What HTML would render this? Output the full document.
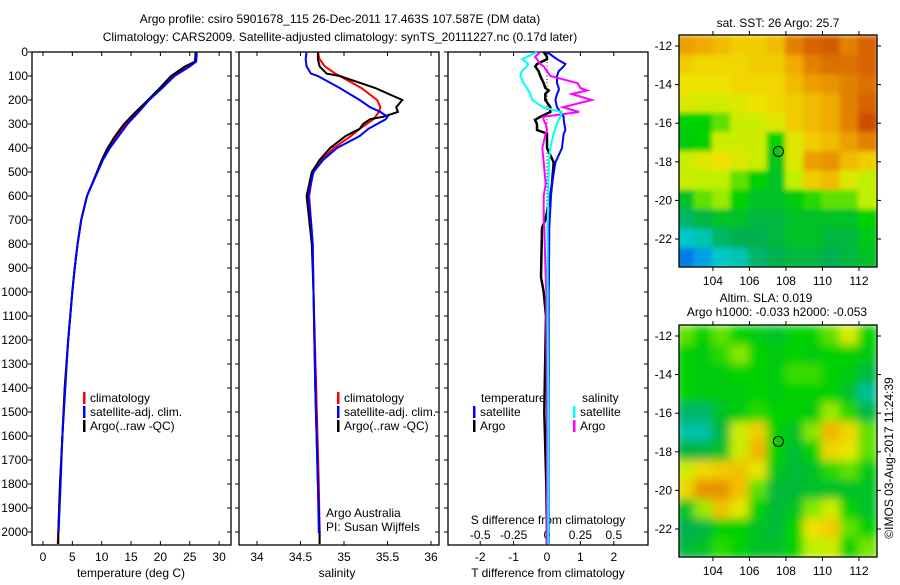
<!DOCTYPE html>
<html><head><meta charset="utf-8">
<style>
html,body{margin:0;padding:0;background:#fff;}
svg text{font-family:"Liberation Sans",sans-serif;font-size:12px;fill:#000;}
</style></head>
<body>
<svg id="chart" width="900" height="580" viewBox="0 0 900 580" xmlns="http://www.w3.org/2000/svg">
<defs>
<clipPath id="cm1"><rect x="679" y="35" width="198" height="232"/></clipPath>
<clipPath id="cm2"><rect x="679" y="325" width="198" height="232"/></clipPath>
<filter id="bl2" x="-5%" y="-5%" width="110%" height="110%"><feGaussianBlur stdDeviation="4.5"/></filter>
<filter id="bl1" x="-5%" y="-5%" width="110%" height="110%"><feGaussianBlur stdDeviation="2.5"/></filter>
</defs>
<text x="340" y="23" text-anchor="middle">Argo profile: csiro 5901678_115 26-Dec-2011 17.463S 107.587E (DM data)</text>
<text x="340" y="41" text-anchor="middle">Climatology: CARS2009. Satellite-adjusted climatology: synTS_20111227.nc (0.17d later)</text>
<g id="g"></g>
<text transform="translate(893,458) rotate(-90)" text-anchor="middle">©IMOS 03-Aug-2017 11:24:39</text>
</svg>
<script>
// ---- profile data (depth m) ----
const depths = [0,40,60,100,150,200,250,300,350,400,450,500,600,700,800,900,1000,1200,1400,1600,1800,2000,2050];
const tempClim = [26.1,26.0,24.6,22.1,20.0,17.9,16.0,14.1,12.6,11.2,10.1,9.2,7.5,6.5,5.9,5.4,5.0,4.3,3.7,3.3,2.9,2.6,2.5];
const tempSat  = [26.2,26.1,25.0,22.4,20.3,18.1,16.3,14.4,12.9,11.4,10.2,9.3,7.5,6.5,5.9,5.4,5.0,4.3,3.8,3.3,3.0,2.65,2.6];
const tempArgo = [26.0,25.9,24.2,21.8,19.9,17.9,15.8,13.8,12.3,11.0,10.0,9.2,7.5,6.5,5.9,5.4,5.0,4.3,3.7,3.3,2.9,2.6,2.6];
const salDepths = [0,30,60,90,100,150,200,230,250,270,280,300,320,350,400,450,500,600,700,800,1000,1400,1800,2000,2050];
const salClim = [34.70,34.72,34.78,34.9,34.95,35.2,35.38,35.42,35.40,35.36,35.34,35.26,35.18,35.08,34.88,34.74,34.64,34.6,34.62,34.64,34.65,34.68,34.71,34.72,34.72];
const salSat  = [34.57,34.56,34.57,34.62,34.70,34.95,35.18,35.3,35.42,35.5,35.48,35.38,35.28,35.18,34.92,34.76,34.65,34.59,34.62,34.64,34.65,34.67,34.70,34.71,34.72];
const salArgo = [34.70,34.70,34.72,34.8,34.95,35.36,35.67,35.6,35.62,35.45,35.30,35.22,35.18,35.02,34.84,34.72,34.63,34.57,34.6,34.63,34.65,34.67,34.70,34.72,34.72];
// ---- difference data ----
const diffDepths = [0,20,30,50,60,80,100,130,150,160,175,200,230,250,270,283,300,325,340,400,460,550,600,700,733,937,1000,1100,1500,1800,2000,2050];
const tDiffSat  = [0,0.2,0.3,0.55,0.5,0.35,0.3,0.3,0.35,0.35,0.3,0.25,0.3,0.4,0.5,0.5,0.52,0.55,0.5,0.45,0.25,0.15,0.12,0.08,0.07,0.06,0.05,0.05,0.05,0.05,0.05,0.05];
const tDiffArgo = [-0.1,0,0,-0.3,-0.35,-0.25,-0.2,-0.1,-0.05,0.05,-0.05,-0.05,0.1,0.1,-0.2,-0.36,-0.3,-0.3,0,0,0.2,0.15,0.1,-0.05,-0.15,-0.18,-0.1,-0.03,-0.08,-0.02,0,0];
const sDiffSat  = [-0.075,-0.15,-0.185,-0.14,-0.15,-0.19,-0.2,-0.175,-0.15,-0.14,-0.125,-0.11,-0.03,0.11,0.1,0.085,0.075,0.06,0.05,0.025,0.015,0.01,0.01,0.005,0.005,0.005,0.005,0.005,0.01,0.01,0.01,0.01];
const sDiffArgo = [-0.05,-0.09,-0.075,-0.05,-0.025,0,0.025,0.23,0.25,0.3,0.185,0.335,0.12,0.24,-0.03,-0.025,-0.01,0,-0.01,-0.035,-0.025,-0.01,-0.025,-0.025,-0.02,-0.01,-0.005,-0.005,0,0,0,0];
// ---- tick labels ----
const depthTicks = [0,100,200,300,400,500,600,700,800,900,1000,1100,1200,1300,1400,1500,1600,1700,1800,1900,2000];
const tempTicks = [0,5,10,15,20,25,30];
const salTicks = [34,34.5,35,35.5,36];
const tdTicks = [-2,-1,0,1,2];
const sdTicks = [-0.5,-0.25,0,0.25,0.5];
const lonTicks = [104,106,108,110,112];
const latTicks = [-12,-14,-16,-18,-20,-22];
// ---- map data (colour level 0..1), rows lat -12..-23, cols lon 102.5..112.5 ----
const sstGrid = [
[0.8,0.78,0.75,0.72,0.72,0.75,0.85,0.9,0.92,0.85,0.9],
[0.72,0.7,0.7,0.7,0.72,0.72,0.78,0.85,0.88,0.88,0.9],
[0.68,0.68,0.68,0.7,0.7,0.7,0.75,0.8,0.82,0.85,0.88],
[0.65,0.63,0.63,0.65,0.68,0.7,0.72,0.75,0.78,0.85,0.9],
[0.5,0.5,0.55,0.62,0.62,0.65,0.72,0.75,0.78,0.85,0.95],
[0.48,0.5,0.62,0.62,0.62,0.5,0.65,0.72,0.75,0.8,0.85],
[0.62,0.65,0.68,0.65,0.62,0.47,0.65,0.8,0.82,0.75,0.72],
[0.62,0.6,0.6,0.55,0.5,0.46,0.6,0.72,0.75,0.65,0.6],
[0.45,0.55,0.58,0.5,0.45,0.45,0.48,0.52,0.55,0.55,0.6],
[0.38,0.42,0.45,0.45,0.42,0.42,0.45,0.45,0.45,0.45,0.5],
[0.3,0.32,0.38,0.4,0.4,0.42,0.45,0.45,0.42,0.42,0.47],
[0.15,0.22,0.3,0.32,0.38,0.4,0.42,0.42,0.4,0.42,0.45]];
const slaGrid = [
[0.55,0.5,0.55,0.5,0.48,0.45,0.5,0.5,0.55,0.64,0.5],
[0.5,0.48,0.52,0.57,0.5,0.48,0.5,0.48,0.5,0.5,0.48],
[0.5,0.48,0.48,0.5,0.5,0.48,0.53,0.53,0.5,0.48,0.42],
[0.5,0.48,0.48,0.48,0.5,0.48,0.5,0.5,0.5,0.45,0.34],
[0.38,0.38,0.45,0.48,0.52,0.5,0.5,0.48,0.58,0.52,0.42],
[0.33,0.33,0.42,0.62,0.72,0.5,0.46,0.57,0.76,0.7,0.55],
[0.42,0.42,0.45,0.62,0.76,0.5,0.44,0.5,0.7,0.66,0.55],
[0.62,0.7,0.72,0.74,0.66,0.47,0.43,0.45,0.52,0.55,0.48],
[0.7,0.82,0.82,0.74,0.55,0.43,0.43,0.45,0.45,0.45,0.45],
[0.45,0.58,0.74,0.66,0.5,0.43,0.46,0.57,0.62,0.5,0.45],
[0.4,0.42,0.5,0.5,0.45,0.43,0.5,0.68,0.72,0.55,0.5],
[0.42,0.45,0.52,0.5,0.45,0.45,0.5,0.6,0.62,0.5,0.56]];
const argoLon = 107.587, argoLat = -17.463;

const NS='http://www.w3.org/2000/svg';
const G=document.getElementById('g');
function mk(tag,attrs,parent){const e=document.createElementNS(NS,tag);for(const k in attrs)e.setAttribute(k,attrs[k]);(parent||G).appendChild(e);return e;}
function txt(x,y,s,anchor,parent){const t=mk('text',{x:x,y:y,'text-anchor':anchor||'start'},parent);t.textContent=s;return t;}

const yD = d => 52 + d*0.24;
const xT = v => 43 + v*5.87;
const xS = v => 257 + (v-34)*87;
const xTD = v => 547 + v*33.4;
const xSD = v => 547 + v*133.6;

function panel(x0,x1,name){
  const r=mk('rect',{x:x0,y:52,width:x1-x0,height:493,fill:'none',stroke:'#000','stroke-width':1.3});
  
  
  depthTicks.forEach(d=>{mk('line',{x1:x0-4,x2:x0,y1:yD(d),y2:yD(d),stroke:'#000'});mk('line',{x1:x1-4,x2:x1,y1:yD(d),y2:yD(d),stroke:'#000'});});
}
function line(xs,ds,xf,color,w,name){
  const p=xs.map((v,i)=>xf(v).toFixed(1)+','+yD(ds[i]).toFixed(1)).join(' ');
  const l=mk('polyline',{points:p,fill:'none',stroke:color,'stroke-width':w});
  
  
}
depthTicks.forEach(d=>{txt(28,yD(d)+4,String(d),'end');});
// Panel 1
panel(32,231,'temperature-panel');
tempTicks.forEach(v=>{mk('line',{x1:xT(v),x2:xT(v),y1:52,y2:56,stroke:'#000'});mk('line',{x1:xT(v),x2:xT(v),y1:541,y2:545,stroke:'#000'});txt(xT(v),561,String(v),'middle');});
txt(131,577,'temperature (deg C)','middle');
line(tempClim,depths,xT,'#f00',2,'temp-climatology-line');
line(tempArgo,depths,xT,'#000',2,'temp-argo-line');
line(tempSat,depths.map(d=>Math.min(d,2000)),xT,'#0000ff',2,'temp-satellite-line');
// Panel 2
panel(239,439,'salinity-panel');
salTicks.forEach(v=>{mk('line',{x1:xS(v),x2:xS(v),y1:52,y2:56,stroke:'#000'});mk('line',{x1:xS(v),x2:xS(v),y1:541,y2:545,stroke:'#000'});txt(xS(v),561,String(v),'middle');});
txt(337,577,'salinity','middle');
line(salClim,salDepths,xS,'#f00',2,'sal-climatology-line');
line(salArgo,salDepths,xS,'#000',2,'sal-argo-line');
line(salSat,salDepths.map(d=>Math.min(d,2000)),xS,'#0000ff',2,'sal-satellite-line');
function legend(x,y,color,label,name){
  mk('rect',{x:x,y:y-10,width:2.5,height:12,fill:color});
  const t=txt(x+7,y,label);
  
  
}
legend(83,402,'#f00','climatology','legend-climatology');
legend(83,416,'#0000ff','satellite-adj. clim.','legend-satellite-adj');
legend(83,430,'#000','Argo(..raw -QC)','legend-argo');
legend(337,402,'#f00','climatology','legend-climatology-2');
legend(337,416,'#0000ff','satellite-adj. clim.','legend-satellite-adj-2');
legend(337,430,'#000','Argo(..raw -QC)','legend-argo-2');
txt(326,517,'Argo Australia');
txt(326,531,'PI: Susan Wijffels');
// Panel 3
panel(448,648,'difference-panel');
tdTicks.forEach(v=>{mk('line',{x1:xTD(v),x2:xTD(v),y1:52,y2:56,stroke:'#000'});mk('line',{x1:xTD(v),x2:xTD(v),y1:541,y2:545,stroke:'#000'});txt(xTD(v),561,String(v),'middle');});
sdTicks.forEach(v=>{txt(xSD(v),539,String(v),'middle');});
txt(548,524,'S difference from climatology','middle');
txt(548,577,'T difference from climatology','middle');
for(let d=0;d<=2050;d+=14){mk('rect',{x:546.5,y:yD(d),width:1,height:1,fill:'#000'});}
line(tDiffArgo,diffDepths,xTD,'#000',2.5,'tdiff-argo-line');
line(tDiffSat,diffDepths,xTD,'#0000ff',2,'tdiff-satellite-line');
line(sDiffArgo,diffDepths,xSD,'#ff00ff',2,'sdiff-argo-line');
line(sDiffSat,diffDepths,xSD,'#00ffff',2,'sdiff-satellite-line');
txt(481,402,'temperature');
txt(582,402,'salinity');
legend(473,416,'#0000ff','satellite','legend-t-satellite');
legend(473,430,'#000','Argo','legend-t-argo');
legend(573,416,'#00ffff','satellite','legend-s-satellite');
legend(573,430,'#ff00ff','Argo','legend-s-argo');

// Maps
const stops=[[0,[0,40,180]],[0.18,[0,140,240]],[0.3,[0,200,200]],[0.4,[0,176,80]],[0.5,[0,210,0]],[0.6,[190,240,0]],[0.68,[240,226,0]],[0.78,[240,170,0]],[0.9,[216,100,0]],[1,[190,60,0]]];
function cmap(v){for(let i=1;i<stops.length;i++){if(v<=stops[i][0]){const a=stops[i-1],b=stops[i],f=(v-a[0])/(b[0]-a[0]);const c=a[1].map((x,k)=>Math.round(x+(b[1][k]-x)*f));return 'rgb('+c+')';}}return 'rgb('+stops[stops.length-1][1]+')';}
function map(top,grid,clip,filt,name){
  const xL = lon => 679 + (lon-102.14)*18.25;
  const yL = lat => top+11 + (-12-lat)*19.3;
  const g=mk('g',{'clip-path':'url(#'+clip+')'});
  
  
  const gi=mk('g',{filter:'url(#'+filt+')'},g);
  grid.forEach((row,r)=>row.forEach((v,c)=>{
    const lat=-11.5-r, lon=102+c;
    const cell=mk('rect',{x:xL(lon)-1,y:yL(lat)-1,width:18.25+2,height:19.3+2,fill:cmap(v)},gi);
    
    
  }));
  mk('rect',{x:679,y:top,width:198,height:232,fill:'none',stroke:'#000','stroke-width':1.3});
  lonTicks.forEach(v=>{mk('line',{x1:xL(v),x2:xL(v),y1:top-4,y2:top,stroke:'#000'});mk('line',{x1:xL(v),x2:xL(v),y1:top+232,y2:top+236,stroke:'#000'});txt(xL(v),top+250,String(v),'middle');});
  latTicks.forEach(v=>{mk('line',{x1:675,x2:679,y1:yL(v),y2:yL(v),stroke:'#000'});mk('line',{x1:877,x2:881,y1:yL(v),y2:yL(v),stroke:'#000'});txt(672,yL(v)+4,String(v),'end');});
  const c=mk('circle',{cx:xL(argoLon),cy:yL(argoLat),r:5,fill:'none',stroke:'#000','stroke-width':1});
  
  
}
map(35,sstGrid,'cm1','bl1','sst-map');
map(325,slaGrid,'cm2','bl2','sla-map');
txt(778,27,'sat. SST: 26 Argo: 25.7','middle');
txt(766,302,'Altim. SLA: 0.019','middle');
txt(777,316,'Argo h1000: -0.033 h2000: -0.053','middle');
</script>
</body></html>
